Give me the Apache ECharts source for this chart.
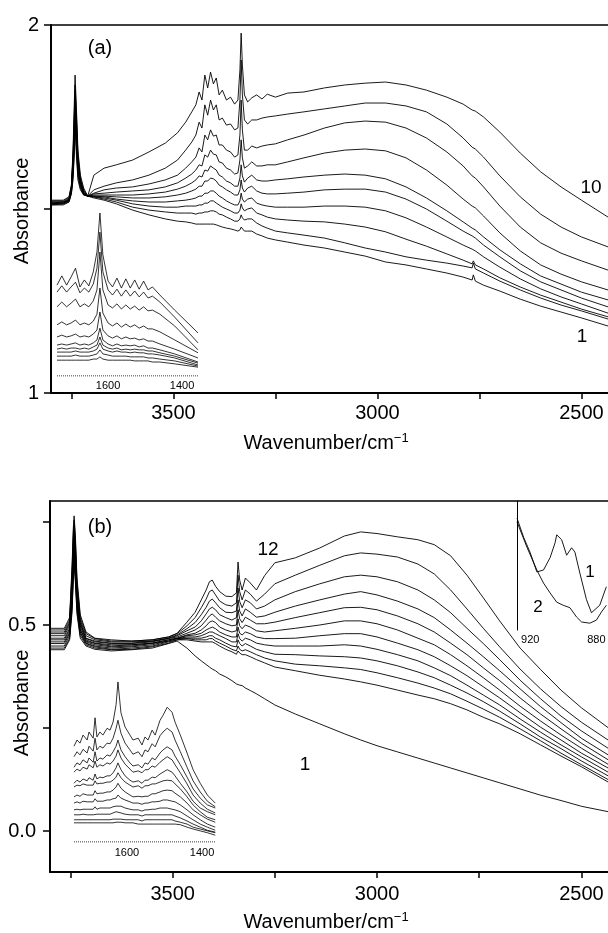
<!DOCTYPE html>
<html><head><meta charset="utf-8">
<script src="https://cdn.jsdelivr.net/npm/echarts@6/dist/echarts.min.js"></script>
<style>html,body{margin:0;padding:0;background:#fff}#c{width:608px;height:933px}</style>
</head><body><div id="c"></div>
<script>
// ---------- Panel (a): wavenumber grid and absorbance spectra 1..10 ----------
const WN_A = [3800,3770,3756,3750,3746,3743,3741,3738,3734,3728,3720,3710,3695,3670,3640,3600,3560,3520,3490,3470,3455,3445,3437,3430,3423,3416,3409,3402,3395,3388,3380,3370,3360,3350,3342,3337,3334,3331,3326,3318,3308,3296,3283,3270,3250,3220,3180,3130,3080,3030,2980,2930,2880,2830,2790,2768,2765,2760,2740,2700,2650,2600,2550,2500,2435];
const A10 = [1.524,1.524,1.533,1.565,1.660,1.783,1.864,1.783,1.660,1.592,1.557,1.535,1.592,1.611,1.620,1.633,1.655,1.679,1.707,1.736,1.764,1.783,1.818,1.796,1.864,1.829,1.872,1.840,1.856,1.810,1.823,1.796,1.804,1.785,1.796,1.878,1.978,1.891,1.810,1.791,1.802,1.810,1.799,1.812,1.804,1.815,1.818,1.829,1.837,1.842,1.845,1.837,1.823,1.804,1.785,1.769,1.769,1.766,1.750,1.709,1.652,1.601,1.560,1.524,1.478];
const A9 = [1.522,1.522,1.530,1.562,1.647,1.755,1.837,1.764,1.647,1.584,1.552,1.535,1.552,1.562,1.571,1.579,1.592,1.611,1.633,1.660,1.682,1.701,1.736,1.720,1.783,1.755,1.796,1.769,1.783,1.742,1.747,1.728,1.731,1.715,1.720,1.796,1.905,1.810,1.742,1.731,1.742,1.742,1.747,1.750,1.753,1.758,1.764,1.772,1.780,1.788,1.788,1.780,1.764,1.731,1.693,1.668,1.668,1.663,1.641,1.590,1.533,1.486,1.451,1.424,1.397];
const A8 = [1.519,1.519,1.527,1.560,1.639,1.742,1.823,1.747,1.639,1.579,1.549,1.535,1.543,1.552,1.557,1.560,1.568,1.579,1.592,1.611,1.628,1.641,1.666,1.655,1.701,1.688,1.715,1.698,1.701,1.674,1.674,1.660,1.655,1.641,1.647,1.701,1.796,1.715,1.660,1.660,1.671,1.666,1.671,1.674,1.677,1.688,1.701,1.720,1.734,1.739,1.736,1.720,1.693,1.655,1.617,1.590,1.590,1.584,1.560,1.508,1.451,1.408,1.380,1.359,1.334];
const A7 = [1.519,1.519,1.527,1.557,1.633,1.728,1.810,1.736,1.633,1.576,1.546,1.535,1.541,1.543,1.546,1.549,1.552,1.560,1.571,1.584,1.595,1.606,1.620,1.617,1.647,1.641,1.660,1.649,1.647,1.628,1.625,1.611,1.606,1.595,1.598,1.633,1.688,1.639,1.611,1.617,1.628,1.617,1.617,1.620,1.620,1.628,1.639,1.652,1.660,1.663,1.658,1.639,1.606,1.565,1.527,1.508,1.508,1.503,1.481,1.435,1.386,1.348,1.323,1.302,1.280];
const A6 = [1.516,1.519,1.524,1.554,1.625,1.715,1.796,1.720,1.625,1.573,1.543,1.535,1.538,1.538,1.538,1.538,1.541,1.546,1.554,1.562,1.571,1.579,1.590,1.587,1.606,1.603,1.617,1.611,1.606,1.592,1.587,1.576,1.571,1.562,1.562,1.584,1.620,1.590,1.573,1.584,1.592,1.579,1.576,1.576,1.579,1.582,1.587,1.592,1.595,1.592,1.582,1.560,1.530,1.495,1.465,1.448,1.448,1.443,1.424,1.389,1.351,1.318,1.296,1.274,1.253];
const A5 = [1.516,1.516,1.524,1.552,1.617,1.701,1.783,1.707,1.617,1.571,1.543,1.535,1.535,1.535,1.533,1.530,1.530,1.533,1.538,1.543,1.549,1.554,1.562,1.562,1.576,1.576,1.584,1.582,1.576,1.565,1.560,1.552,1.546,1.538,1.538,1.552,1.579,1.557,1.546,1.557,1.562,1.549,1.543,1.541,1.541,1.543,1.546,1.552,1.554,1.554,1.546,1.527,1.500,1.467,1.440,1.427,1.427,1.421,1.402,1.370,1.332,1.302,1.280,1.258,1.234];
const A4 = [1.514,1.516,1.522,1.549,1.606,1.688,1.769,1.693,1.606,1.565,1.541,1.535,1.535,1.533,1.527,1.522,1.519,1.519,1.522,1.524,1.527,1.530,1.535,1.535,1.543,1.543,1.549,1.549,1.543,1.535,1.530,1.522,1.516,1.511,1.511,1.522,1.543,1.527,1.519,1.527,1.530,1.516,1.511,1.508,1.505,1.505,1.505,1.508,1.508,1.505,1.495,1.476,1.451,1.424,1.402,1.391,1.391,1.386,1.370,1.342,1.310,1.283,1.261,1.242,1.217];
const A3 = [1.514,1.514,1.522,1.546,1.598,1.674,1.755,1.679,1.598,1.562,1.541,1.535,1.533,1.530,1.524,1.514,1.508,1.505,1.505,1.508,1.508,1.508,1.511,1.511,1.516,1.516,1.522,1.522,1.516,1.511,1.505,1.500,1.495,1.489,1.489,1.497,1.514,1.503,1.495,1.500,1.503,1.489,1.484,1.478,1.473,1.470,1.467,1.465,1.459,1.451,1.438,1.418,1.399,1.378,1.361,1.351,1.359,1.348,1.337,1.313,1.288,1.266,1.247,1.228,1.207];
const A2 = [1.511,1.514,1.519,1.543,1.590,1.660,1.742,1.666,1.590,1.557,1.538,1.535,1.533,1.527,1.519,1.505,1.497,1.492,1.489,1.489,1.489,1.486,1.489,1.489,1.492,1.492,1.495,1.495,1.492,1.486,1.484,1.478,1.473,1.467,1.467,1.473,1.484,1.476,1.470,1.473,1.473,1.462,1.454,1.448,1.440,1.435,1.429,1.421,1.408,1.394,1.383,1.370,1.361,1.353,1.345,1.340,1.353,1.337,1.326,1.304,1.280,1.258,1.239,1.223,1.201];
const A1 = [1.511,1.511,1.519,1.541,1.579,1.647,1.728,1.652,1.579,1.552,1.538,1.535,1.530,1.524,1.514,1.497,1.484,1.473,1.467,1.465,1.462,1.459,1.459,1.459,1.459,1.459,1.459,1.459,1.457,1.454,1.451,1.448,1.446,1.443,1.440,1.443,1.451,1.446,1.440,1.440,1.440,1.432,1.427,1.421,1.416,1.410,1.402,1.394,1.383,1.372,1.356,1.348,1.337,1.326,1.315,1.307,1.321,1.304,1.293,1.277,1.255,1.236,1.220,1.204,1.182];

// ---------- Panel (b): spectra 1..12 ----------
const WN_B = [3800,3765,3752,3746,3743,3741,3738,3734,3726,3712,3690,3650,3600,3550,3510,3489,3465,3445,3430,3418,3410,3403,3395,3385,3370,3355,3344,3340,3336,3330,3322,3310,3295,3275,3250,3200,3140,3080,3040,3000,2950,2900,2860,2820,2780,2740,2700,2650,2600,2550,2500,2435];
const B12 = [0.492,0.492,0.518,0.645,0.735,0.765,0.719,0.614,0.525,0.483,0.468,0.464,0.461,0.464,0.471,0.480,0.507,0.531,0.561,0.585,0.605,0.609,0.594,0.581,0.570,0.569,0.578,0.653,0.609,0.585,0.614,0.602,0.585,0.620,0.651,0.663,0.687,0.716,0.726,0.722,0.714,0.707,0.695,0.668,0.621,0.566,0.510,0.444,0.392,0.342,0.299,0.251];
const B11 = [0.488,0.488,0.512,0.633,0.723,0.755,0.707,0.605,0.518,0.479,0.467,0.461,0.461,0.464,0.471,0.479,0.498,0.518,0.542,0.563,0.581,0.585,0.573,0.558,0.549,0.546,0.554,0.621,0.581,0.561,0.585,0.575,0.558,0.575,0.600,0.621,0.645,0.668,0.675,0.672,0.665,0.648,0.624,0.585,0.539,0.492,0.447,0.393,0.345,0.302,0.264,0.221];
const B10 = [0.483,0.483,0.507,0.621,0.711,0.743,0.695,0.594,0.512,0.474,0.464,0.459,0.459,0.461,0.468,0.476,0.491,0.506,0.525,0.543,0.558,0.563,0.554,0.542,0.531,0.530,0.534,0.590,0.557,0.542,0.561,0.554,0.539,0.546,0.561,0.581,0.600,0.617,0.621,0.617,0.605,0.585,0.561,0.530,0.492,0.455,0.416,0.366,0.321,0.279,0.243,0.201];
const B9 = [0.479,0.479,0.503,0.609,0.699,0.731,0.683,0.585,0.507,0.468,0.461,0.456,0.456,0.461,0.468,0.474,0.486,0.495,0.510,0.527,0.539,0.543,0.537,0.525,0.518,0.512,0.518,0.561,0.534,0.522,0.539,0.531,0.519,0.522,0.531,0.546,0.561,0.575,0.581,0.573,0.558,0.539,0.518,0.488,0.456,0.423,0.389,0.345,0.302,0.263,0.225,0.185];
const B8 = [0.474,0.474,0.498,0.600,0.687,0.722,0.671,0.578,0.503,0.467,0.459,0.455,0.455,0.459,0.467,0.471,0.480,0.488,0.498,0.512,0.522,0.527,0.519,0.510,0.503,0.498,0.500,0.537,0.515,0.506,0.519,0.512,0.503,0.503,0.507,0.518,0.530,0.542,0.543,0.537,0.522,0.503,0.483,0.456,0.428,0.396,0.365,0.323,0.284,0.248,0.213,0.173];
const B7 = [0.468,0.468,0.492,0.590,0.677,0.711,0.663,0.570,0.498,0.464,0.456,0.452,0.452,0.456,0.464,0.468,0.476,0.480,0.488,0.498,0.507,0.510,0.506,0.495,0.488,0.483,0.486,0.515,0.498,0.491,0.500,0.495,0.486,0.483,0.486,0.492,0.500,0.510,0.510,0.503,0.488,0.468,0.452,0.428,0.401,0.372,0.342,0.303,0.267,0.233,0.201,0.162];
const B6 = [0.464,0.464,0.488,0.581,0.668,0.702,0.653,0.563,0.492,0.461,0.455,0.449,0.452,0.456,0.464,0.468,0.474,0.476,0.480,0.488,0.492,0.495,0.491,0.483,0.476,0.471,0.471,0.495,0.480,0.476,0.483,0.479,0.471,0.467,0.467,0.468,0.474,0.479,0.479,0.471,0.456,0.440,0.423,0.401,0.377,0.350,0.323,0.287,0.252,0.221,0.189,0.153];
const B5 = [0.459,0.459,0.483,0.570,0.659,0.692,0.644,0.557,0.488,0.459,0.452,0.447,0.449,0.455,0.461,0.467,0.471,0.471,0.474,0.479,0.483,0.483,0.479,0.474,0.467,0.459,0.459,0.479,0.467,0.461,0.468,0.464,0.456,0.452,0.449,0.449,0.449,0.452,0.449,0.441,0.428,0.413,0.396,0.377,0.354,0.330,0.306,0.272,0.240,0.209,0.180,0.143];
const B4 = [0.455,0.455,0.479,0.561,0.645,0.683,0.633,0.549,0.483,0.456,0.449,0.444,0.447,0.452,0.461,0.467,0.468,0.468,0.468,0.471,0.474,0.474,0.468,0.464,0.456,0.449,0.447,0.464,0.455,0.449,0.455,0.449,0.441,0.435,0.429,0.428,0.425,0.423,0.420,0.413,0.401,0.386,0.372,0.354,0.335,0.314,0.291,0.260,0.228,0.200,0.170,0.134];
const B3 = [0.449,0.449,0.474,0.551,0.633,0.671,0.624,0.542,0.479,0.455,0.447,0.441,0.444,0.449,0.459,0.464,0.467,0.464,0.464,0.464,0.467,0.467,0.461,0.456,0.449,0.441,0.437,0.449,0.441,0.437,0.440,0.435,0.428,0.420,0.413,0.405,0.401,0.396,0.392,0.384,0.372,0.359,0.347,0.333,0.315,0.296,0.276,0.248,0.219,0.189,0.161,0.125];
const B2 = [0.444,0.444,0.468,0.542,0.621,0.659,0.614,0.534,0.474,0.452,0.444,0.440,0.441,0.447,0.456,0.464,0.464,0.461,0.459,0.459,0.459,0.459,0.455,0.449,0.441,0.435,0.429,0.437,0.432,0.428,0.428,0.423,0.416,0.408,0.398,0.389,0.378,0.369,0.362,0.354,0.342,0.330,0.321,0.309,0.294,0.276,0.260,0.236,0.209,0.182,0.156,0.119];
const B1 = [0.440,0.440,0.464,0.531,0.609,0.645,0.605,0.527,0.468,0.449,0.441,0.437,0.440,0.444,0.455,0.461,0.444,0.425,0.413,0.404,0.398,0.393,0.389,0.381,0.374,0.365,0.357,0.357,0.354,0.353,0.347,0.341,0.333,0.321,0.306,0.284,0.260,0.236,0.221,0.207,0.192,0.177,0.165,0.153,0.141,0.129,0.117,0.102,0.087,0.074,0.060,0.047];

// ---------- Inset in (a): 1750-1350 region, offset absorbance ----------
const WN_IA = [1738,1725,1712,1700,1688,1676,1664,1652,1640,1630,1622,1614,1600,1588,1576,1564,1552,1540,1528,1516,1504,1492,1480,1460,1420,1357];
const IA10 = [0.247,0.272,0.247,0.269,0.293,0.242,0.261,0.245,0.283,0.337,0.443,0.329,0.258,0.242,0.266,0.239,0.264,0.239,0.261,0.236,0.258,0.234,0.242,0.220,0.179,0.117];
const IA9 = [0.228,0.245,0.228,0.242,0.255,0.226,0.239,0.228,0.250,0.293,0.391,0.283,0.234,0.220,0.236,0.217,0.234,0.217,0.231,0.215,0.228,0.212,0.217,0.201,0.160,0.090];
const IA8 = [0.188,0.201,0.188,0.198,0.209,0.188,0.196,0.188,0.204,0.234,0.337,0.234,0.193,0.185,0.196,0.182,0.193,0.182,0.190,0.179,0.188,0.177,0.179,0.168,0.136,0.071];
const IA7 = [0.139,0.147,0.139,0.144,0.152,0.139,0.144,0.139,0.149,0.168,0.239,0.171,0.144,0.136,0.144,0.133,0.141,0.133,0.139,0.130,0.136,0.128,0.128,0.120,0.098,0.063];
const IA6 = [0.106,0.111,0.106,0.109,0.114,0.106,0.109,0.106,0.114,0.125,0.174,0.125,0.109,0.103,0.109,0.101,0.106,0.101,0.103,0.098,0.101,0.095,0.095,0.087,0.073,0.049];
const IA5 = [0.084,0.087,0.084,0.087,0.090,0.084,0.087,0.084,0.090,0.098,0.130,0.098,0.087,0.082,0.087,0.082,0.084,0.082,0.084,0.079,0.082,0.076,0.076,0.071,0.060,0.038];
const IA4 = [0.073,0.076,0.073,0.076,0.076,0.073,0.076,0.073,0.079,0.084,0.106,0.084,0.076,0.073,0.076,0.071,0.073,0.071,0.073,0.071,0.071,0.068,0.068,0.063,0.054,0.035];
const IA3 = [0.065,0.065,0.065,0.065,0.068,0.065,0.065,0.065,0.068,0.073,0.090,0.073,0.068,0.065,0.068,0.065,0.065,0.063,0.065,0.063,0.063,0.060,0.060,0.057,0.049,0.030];
const IA2 = [0.054,0.054,0.054,0.054,0.057,0.054,0.054,0.054,0.057,0.060,0.071,0.060,0.057,0.054,0.054,0.054,0.054,0.052,0.052,0.052,0.052,0.049,0.049,0.046,0.041,0.027];
const IA1 = [0.043,0.043,0.043,0.043,0.043,0.043,0.043,0.043,0.046,0.046,0.052,0.046,0.043,0.043,0.043,0.043,0.043,0.043,0.041,0.041,0.041,0.041,0.038,0.038,0.033,0.024];
const IA_BASE_X = [1738,1357];
const IA_BASE_Y = [0,0];

// ---------- Inset in (b) ----------
const WN_IB = [1741,1733,1725,1717,1706,1701,1690,1685,1680,1672,1664,1653,1645,1637,1629,1624,1616,1605,1592,1584,1570,1560,1552,1544,1533,1525,1512,1504,1493,1480,1472,1458,1440,1424,1405,1386,1365];
const IB12 = [0.155,0.165,0.160,0.173,0.165,0.178,0.168,0.201,0.170,0.178,0.173,0.184,0.181,0.194,0.222,0.259,0.209,0.186,0.173,0.165,0.168,0.157,0.170,0.165,0.181,0.173,0.197,0.205,0.218,0.210,0.194,0.173,0.144,0.117,0.095,0.076,0.063];
const IB11 = [0.138,0.146,0.141,0.150,0.144,0.155,0.147,0.168,0.149,0.155,0.152,0.160,0.159,0.168,0.184,0.197,0.176,0.160,0.149,0.142,0.146,0.138,0.149,0.146,0.159,0.154,0.172,0.178,0.184,0.178,0.165,0.146,0.121,0.099,0.081,0.066,0.057];
const IB10 = [0.121,0.128,0.125,0.133,0.128,0.136,0.129,0.146,0.131,0.136,0.134,0.141,0.139,0.146,0.155,0.165,0.149,0.138,0.128,0.123,0.125,0.120,0.128,0.126,0.136,0.133,0.144,0.149,0.154,0.149,0.139,0.125,0.105,0.086,0.071,0.060,0.055];
const IB9 = [0.113,0.118,0.115,0.121,0.118,0.125,0.120,0.131,0.121,0.125,0.123,0.128,0.126,0.131,0.139,0.149,0.136,0.126,0.118,0.113,0.115,0.112,0.117,0.117,0.123,0.121,0.129,0.133,0.138,0.133,0.125,0.112,0.094,0.076,0.063,0.053,0.047];
const IB8 = [0.095,0.100,0.097,0.102,0.099,0.104,0.100,0.110,0.102,0.105,0.104,0.107,0.107,0.112,0.120,0.128,0.117,0.107,0.100,0.097,0.099,0.095,0.100,0.100,0.105,0.104,0.110,0.113,0.117,0.113,0.107,0.095,0.081,0.066,0.055,0.049,0.044];
const IB7 = [0.089,0.092,0.091,0.094,0.092,0.095,0.092,0.099,0.094,0.095,0.095,0.097,0.097,0.100,0.105,0.112,0.104,0.097,0.092,0.089,0.091,0.087,0.091,0.091,0.094,0.094,0.097,0.099,0.100,0.099,0.094,0.086,0.073,0.060,0.049,0.040,0.036];
const IB6 = [0.073,0.076,0.074,0.078,0.076,0.079,0.076,0.083,0.078,0.079,0.079,0.081,0.081,0.084,0.089,0.095,0.087,0.081,0.076,0.073,0.074,0.073,0.074,0.074,0.078,0.078,0.081,0.083,0.084,0.083,0.079,0.073,0.063,0.052,0.044,0.037,0.032];
const IB5 = [0.063,0.065,0.063,0.066,0.065,0.066,0.065,0.070,0.066,0.066,0.066,0.068,0.068,0.070,0.071,0.076,0.071,0.068,0.065,0.063,0.063,0.061,0.063,0.063,0.065,0.065,0.066,0.068,0.068,0.066,0.065,0.060,0.052,0.044,0.036,0.029,0.024];
const IB4 = [0.052,0.053,0.052,0.053,0.053,0.055,0.053,0.057,0.053,0.055,0.055,0.055,0.055,0.057,0.058,0.061,0.058,0.055,0.053,0.052,0.052,0.050,0.052,0.052,0.053,0.053,0.055,0.055,0.055,0.053,0.052,0.049,0.042,0.036,0.029,0.024,0.019];
const IB3 = [0.044,0.044,0.044,0.045,0.044,0.045,0.044,0.047,0.045,0.045,0.045,0.045,0.045,0.047,0.049,0.050,0.047,0.045,0.044,0.044,0.044,0.042,0.044,0.044,0.044,0.044,0.044,0.044,0.044,0.044,0.042,0.039,0.034,0.029,0.024,0.019,0.016];
const IB2 = [0.036,0.036,0.036,0.036,0.036,0.036,0.036,0.037,0.036,0.036,0.036,0.036,0.036,0.037,0.037,0.039,0.037,0.036,0.036,0.036,0.036,0.034,0.036,0.036,0.036,0.036,0.036,0.036,0.036,0.036,0.034,0.032,0.029,0.024,0.021,0.018,0.015];
const IB1 = [0.031,0.031,0.031,0.031,0.031,0.031,0.031,0.031,0.031,0.031,0.031,0.031,0.031,0.031,0.032,0.034,0.032,0.031,0.031,0.031,0.029,0.029,0.029,0.029,0.029,0.029,0.029,0.029,0.029,0.029,0.029,0.028,0.024,0.021,0.018,0.015,0.011];
const IB_BASE_X = [1741,1365];
const IB_BASE_Y = [0,0];

// ---------- Top-right inset in (b): 930-870 region ----------
const WN_IC1 = [928,924,920,916,912,908,905,904,901,898,895,893,890,886,883,878,874];
const IC1 = [0.181,0.150,0.125,0.094,0.097,0.117,0.141,0.154,0.146,0.121,0.133,0.126,0.092,0.049,0.028,0.040,0.070];
const WN_IC2 = [928,922,916,912,908,904,900,896,892,889,884,880,877,874];
const IC2 = [0.175,0.134,0.097,0.076,0.060,0.045,0.040,0.036,0.021,0.013,0.011,0.016,0.029,0.040];

// ---------- Axis ticks / labels ----------
const X_TICKS = [3750,3500,3250,3000,2750,2500];
const X_LABELS = [3500,3000,2500];
const YA_TICKS = [1,1.5,2];
const YA_LABELS = [1,2];
const YB_TICKS = [0,0.25,0.5,0.75];
const YB_LABELS = [0,0.5];
const INSET_LABELS = [1600,1400];
const IC_LABELS = [920,880];

const FONT = '"Liberation Sans", Arial, Helvetica, sans-serif';
const FS = 20;
const chart = echarts.init(document.getElementById('c'), null, {renderer:'canvas'});
const pairs = (x, y) => x.map((w, i) => [w, y[i]]);
const black = '#000';
const plain = v => String(v);

function mainX(grid, margin){
  return {type:'value', gridIndex:grid, inverse:true, min:2435, max:3800, position:'bottom',
    axisLine:{show:true, onZero:false, lineStyle:{color:black, width:2}},
    axisTick:{show:true, length:6, customValues:X_TICKS, lineStyle:{color:black, width:1.5}},
    axisLabel:{show:true, customValues:X_LABELS, margin:margin, color:black, fontSize:FS, fontFamily:FONT, formatter:plain},
    splitLine:{show:false}};
}
function topX(grid){
  return {type:'value', gridIndex:grid, inverse:true, min:2435, max:3800, position:'top',
    axisLine:{show:true, onZero:false, lineStyle:{color:black, width:1.5}},
    axisTick:{show:false}, axisLabel:{show:false}, splitLine:{show:false}};
}
function insetX(grid, min, max, labels, margin){
  return {type:'value', gridIndex:grid, inverse:true, min:min, max:max, axisLine:{show:false}, axisTick:{show:false},
    axisLabel:{customValues:labels, margin:margin, color:black, fontSize:11, fontFamily:FONT, formatter:plain}, splitLine:{show:false}};
}
const xAxis = [
  mainX(0, 10),
  topX(0),
  mainX(1, 12),
  topX(1),
  insetX(2, 1357, 1738, INSET_LABELS, 4),
  insetX(3, 1363, 1741, INSET_LABELS, 5),
  insetX(4, 873, 928, IC_LABELS, 4)
];
const yAxis = [
  {type:'value', gridIndex:0, min:1, max:2,
    axisLine:{show:true, onZero:false, lineStyle:{color:black, width:2}},
    axisTick:{show:true, length:7, customValues:YA_TICKS, lineStyle:{color:black, width:1.5}},
    axisLabel:{customValues:YA_LABELS, margin:12, color:black, fontSize:FS, fontFamily:FONT},
    splitLine:{show:false}},
  {type:'value', gridIndex:1, min:-0.0995, max:0.801,
    axisLine:{show:true, onZero:false, lineStyle:{color:black, width:2}},
    axisTick:{show:true, length:7, customValues:YB_TICKS, lineStyle:{color:black, width:1.5}},
    axisLabel:{customValues:YB_LABELS, margin:14, color:black, fontSize:FS, fontFamily:FONT,
      formatter: v => v.toFixed(1)},
    splitLine:{show:false}},
  {type:'value', gridIndex:2, min:0, max:0.4647, show:false},
  {type:'value', gridIndex:3, min:0, max:0.2945, show:false},
  {type:'value', gridIndex:4, min:0, max:0.2087,
    axisLine:{show:true, onZero:false, lineStyle:{color:black, width:1}}, axisTick:{show:false},
    axisLabel:{show:false}, splitLine:{show:false}}
];
const grid = [
  {left:51, right:0, top:25, height:368, outerBoundsMode:'none'},
  {left:50, right:0, top:501, height:371, outerBoundsMode:'none'},
  {left:57, width:141, top:205, height:171, outerBoundsMode:'none'},
  {left:74, width:142, top:660, height:182, outerBoundsMode:'none'},
  {left:517, right:0, top:501, height:129, outerBoundsMode:'none'}
];
const series = [];
function add(xi, yi, x, y, w, dotted){
  series.push({type:'line', xAxisIndex:xi, yAxisIndex:yi, data:pairs(x, y), showSymbol:false, symbol:'none',
    silent:true, clip:true, lineStyle:{color:black, width:w, type: dotted ? 'dotted' : 'solid'}});
}
[A1,A2,A3,A4,A5,A6,A7,A8,A9,A10].forEach(d => add(0, 0, WN_A, d, 0.9));
[B1,B2,B3,B4,B5,B6,B7,B8,B9,B10,B11,B12].forEach(d => add(2, 1, WN_B, d, 0.9));
[IA1,IA2,IA3,IA4,IA5,IA6,IA7,IA8,IA9,IA10].forEach(d => add(4, 2, WN_IA, d, 0.8));
add(4, 2, IA_BASE_X, IA_BASE_Y, 1, true);
[IB1,IB2,IB3,IB4,IB5,IB6,IB7,IB8,IB9,IB10,IB11,IB12].forEach(d => add(5, 3, WN_IB, d, 0.8));
add(5, 3, IB_BASE_X, IB_BASE_Y, 1, true);
add(6, 4, WN_IC1, IC1, 0.9);
add(6, 4, WN_IC2, IC2, 0.9);

function txt(x, y, s, size, extra){
  return Object.assign({type:'text', x:x, y:y, silent:true,
    style:{text:s, x:0, y:0, align:'center', verticalAlign:'middle', fill:black, font:size + 'px ' + FONT}}, extra || {});
}
function axisTitle(x, y){
  return {type:'text', x:x, y:y, silent:true, style:{text:'{a|Wavenumber/cm}{b|\u22121}', x:0, y:0, align:'center', verticalAlign:'middle',
    rich:{a:{fontSize:FS, fontFamily:FONT, fill:black, color:black}, b:{fontSize:13, fontFamily:FONT, color:black, fill:black, verticalAlign:'top', padding:[0,0,9,0]}}}};
}
const graphic = [
  txt(100, 48, '(a)', FS),
  txt(100, 527, '(b)', FS),
  txt(591, 188, '10', 19),
  txt(582, 337, '1', 19),
  txt(268, 550, '12', 19),
  txt(305, 765, '1', 19),
  txt(590, 572, '1', 17),
  txt(538, 607, '2', 17),
  txt(22, 211, 'Absorbance', FS, {rotation: Math.PI/2}),
  txt(22, 703, 'Absorbance', FS, {rotation: Math.PI/2}),
  axisTitle(326, 443),
  axisTitle(326, 922)
];
chart.setOption({animation:false, backgroundColor:'#fff', grid, xAxis, yAxis, series, graphic});
</script></body></html>
